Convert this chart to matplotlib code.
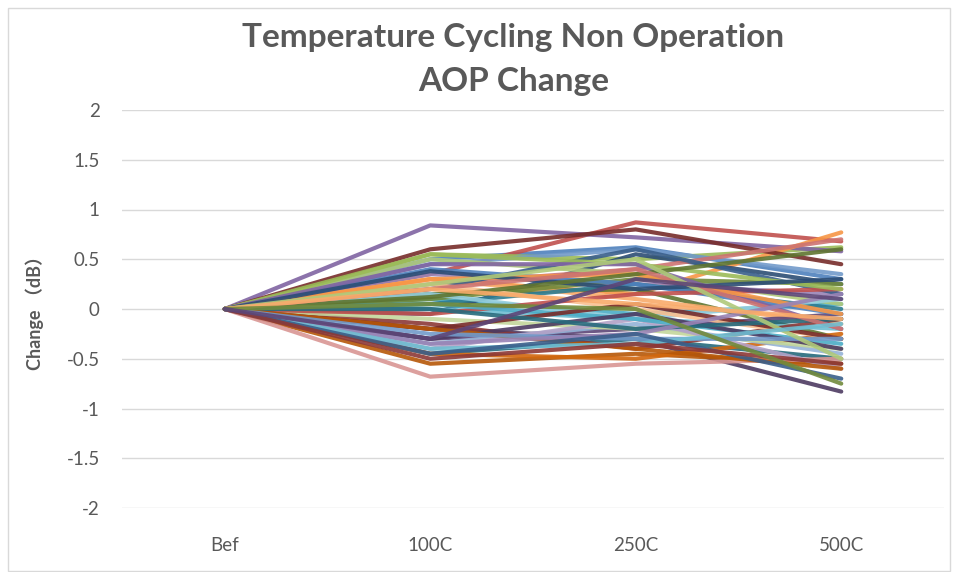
import matplotlib.pyplot as plt
from matplotlib.patches import Rectangle

categories = ['Bef', '100C', '250C', '500C']

# change in dB at each step, one entry per sample (Bef is always 0)
change_100c = [0.50, 0.35, 0.55, 0.84, 0.10, 0.30, -0.05, 0.60, 0.15, -0.20,
               -0.45, -0.55, 0.45, 0.25, 0.50, 0.35, 0.00, 0.30, 0.20, -0.15,
               0.10, -0.30, 0.05, -0.45, -0.35, -0.68, -0.10, -0.40, 0.15, 0.25,
               0.40, -0.05, 0.55, 0.45, 0.05, 0.30, 0.38, -0.20, 0.12, -0.30,
               0.00, -0.20, -0.25, 0.20, 0.25, -0.35, -0.40, 0.20, -0.45, -0.50,
               0.05, -0.30]
change_250c = [0.62, 0.87, 0.50, 0.72, -0.05, 0.15, 0.55, 0.80, 0.20, -0.30,
               -0.30, -0.45, 0.60, 0.40, 0.35, 0.25, -0.10, 0.10, 0.60, -0.40,
               0.30, -0.20, 0.25, -0.50, -0.15, -0.55, -0.20, -0.10, -0.10, 0.00,
               0.25, 0.15, 0.45, 0.45, -0.10, 0.35, 0.20, 0.05, 0.35, -0.05,
               -0.20, -0.40, -0.30, 0.40, 0.50, -0.25, -0.35, 0.05, -0.25, -0.35,
               0.00, 0.30]
change_500c = [0.30, 0.68, 0.62, 0.58, 0.05, 0.77, 0.25, 0.45, -0.30, -0.83,
               -0.50, -0.55, 0.35, 0.70, 0.05, 0.15, -0.20, -0.15, 0.15, -0.10,
               0.25, -0.05, 0.00, -0.25, -0.45, -0.50, -0.40, -0.60, 0.10, -0.30,
               -0.05, 0.20, 0.20, -0.20, -0.35, -0.05, 0.30, -0.30, 0.60, -0.40,
               -0.10, -0.60, -0.30, -0.20, -0.50, 0.15, -0.15, -0.10, -0.70, -0.55,
               -0.75, 0.10]
change_bef = [0.0] * len(change_100c)

# Office 2007 line palette: base, darker, lighter, dark, light
palette = ['#4F81BD', '#C0504D', '#9BBB59', '#8064A2', '#4BACC6', '#F79646',
           '#2C4D75', '#772C2A', '#5F7530', '#4D3B62', '#276A7C', '#B65708',
           '#729ACA', '#CD7371', '#AFC97A', '#9983B5', '#6FBDD1', '#F9AB6B',
           '#3A5F8B', '#8C3836', '#718A3C', '#5D4677', '#2E7C91', '#D2670E',
           '#95B3D7', '#D99694', '#C3D69B', '#B3A2C7', '#93CDDD', '#FAC090']

txt = '#595959'

fig = plt.figure(figsize=(9.58, 5.72), dpi=100)
fig.patches.append(Rectangle((8 / 958, 0.002), 942 / 958, 1 - 8 / 572 - 0.002,
                             transform=fig.transFigure, fill=False,
                             edgecolor='#D9D9D9', linewidth=1))
ax = fig.add_axes([122 / 958, 1 - 508 / 572, 822 / 958, 398 / 572])

x = range(len(categories))
for i in range(len(change_100c)):
    ys = [change_bef[i], change_100c[i], change_250c[i], change_500c[i]]
    ax.plot(x, ys, color=palette[i % len(palette)], linewidth=3, alpha=0.9,
            solid_capstyle='round', solid_joinstyle='round')

ax.set_xlim(-0.5, 3.5)
ax.set_ylim(-2, 2)
ax.set_yticks([-2, -1.5, -1, -0.5, 0, 0.5, 1, 1.5, 2])
ax.set_yticklabels(['-2', '-1.5', '-1', '-0.5', '0', '0.5', '1', '1.5', '2'])
ax.set_xticks(list(x))
ax.set_xticklabels(categories)
ax.grid(axis='y', color='#D9D9D9', linewidth=1)
ax.set_axisbelow(True)
for s in ax.spines.values():
    s.set_visible(False)
ax.tick_params(length=0, labelcolor=txt, labelsize=13.5)
ax.tick_params(axis='x', pad=21)
ax.tick_params(axis='y', pad=16)
for lab in ax.get_xticklabels() + ax.get_yticklabels():
    lab.set_family('Lato')

ax.set_ylabel('Change （dB）', family=['Lato', 'Noto Sans CJK SC'],
              fontweight='bold', color=txt, fontsize=13, labelpad=16)

fig.text(0.536, 1 - 38 / 572, 'Temperature Cycling Non Operation',
         ha='center', va='center', fontsize=24, fontweight='bold',
         color=txt, family='Lato')
fig.text(0.536, 1 - 82 / 572, 'AOP Change', ha='center', va='center',
         fontsize=24, fontweight='bold', color=txt, family='Lato')

fig.savefig('out.png', dpi=100)
